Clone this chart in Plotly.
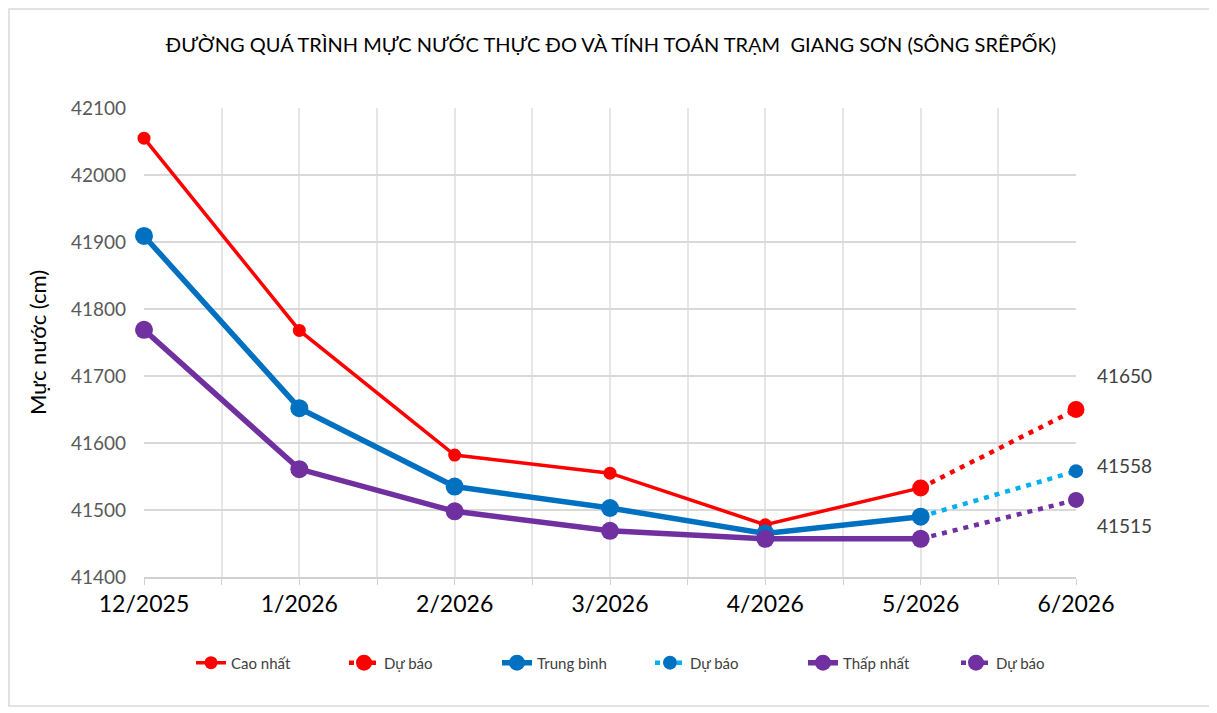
import plotly.graph_objects as go

months = ["12/2025", "1/2026", "2/2026", "3/2026", "4/2026", "5/2026", "6/2026"]
cao_nhat = [42055, 41768, 41582, 41555, 41478, 41533]
trung_binh = [41909, 41652, 41535, 41503, 41465, 41490]
thap_nhat = [41769, 41561, 41498, 41469, 41457, 41457]
du_bao_cao = [41533, 41650]
du_bao_tb = [41490, 41558]
du_bao_thap = [41457, 41515]

xi = list(range(len(months)))
x_obs = xi[:6]
x_fc = xi[5:7]

FONT = "Lato, 'Open Sans', sans-serif"
DOT = "5px,6px"
fig = go.Figure()

fig.add_trace(go.Scatter(x=x_obs, y=cao_nhat, name="Cao nhất", mode="lines+markers", cliponaxis=False,
                         line=dict(color="#FF0000", width=3.5), marker=dict(color="#FF0000", size=13)))
fig.add_trace(go.Scatter(x=x_fc, y=du_bao_cao, name="Dự báo", mode="lines+markers", cliponaxis=False,
                         line=dict(color="#FF0000", width=4.5, dash=DOT),
                         marker=dict(color="#FF0000", size=17)))
fig.add_trace(go.Scatter(x=x_obs, y=trung_binh, name="Trung bình", mode="lines+markers", cliponaxis=False,
                         line=dict(color="#0070C0", width=5.5), marker=dict(color="#0070C0", size=18)))
fig.add_trace(go.Scatter(x=x_fc, y=du_bao_tb, name="Dự báo", mode="lines+markers", cliponaxis=False,
                         line=dict(color="#00B0F0", width=4.5, dash=DOT),
                         marker=dict(color="#0070C0", size=14)))
fig.add_trace(go.Scatter(x=x_obs, y=thap_nhat, name="Thấp nhất", mode="lines+markers", cliponaxis=False,
                         line=dict(color="#7030A0", width=5.5), marker=dict(color="#7030A0", size=18)))
fig.add_trace(go.Scatter(x=x_fc, y=du_bao_thap, name="Dự báo", mode="lines+markers", cliponaxis=False,
                         line=dict(color="#7030A0", width=4.5, dash=DOT),
                         marker=dict(color="#7030A0", size=16)))

label_shifts = [(48, 34), (48, 6), (48, -26)]
for (xs, ys), series in zip(label_shifts, [du_bao_cao, du_bao_tb, du_bao_thap]):
    fig.add_annotation(x=x_fc[-1], y=series[-1], text=str(series[-1]), showarrow=False,
                       xshift=xs, yshift=ys, font=dict(family=FONT, size=19, color="#404040"))

fig.update_layout(
    width=1209, height=705,
    paper_bgcolor="white", plot_bgcolor="white",
    margin=dict(l=136, r=141, t=100, b=136),
    title=dict(text="ĐƯỜNG QUÁ TRÌNH MỰC NƯỚC THỰC ĐO VÀ TÍNH TOÁN TRẠM  GIANG SƠN (SÔNG SRÊPỐK)",
               x=(611 - 8) / 1209, xanchor="center", y=1 - (45 - 8) / 705, yanchor="middle",
               font=dict(family=FONT, size=20, color="#000000")),
    showlegend=True,
    legend=dict(orientation="h", x=(650 - 144) / 932, xanchor="center", y=-0.148, yanchor="top",
                font=dict(family=FONT, size=15, color="#404040"),
                entrywidth=108, entrywidthmode="pixels", traceorder="normal"),
    shapes=[dict(type="rect", xref="paper", yref="paper", x0=-0.1449, x1=1.1459, y0=-0.275, y1=1.211,
                 line=dict(color="#D9D9D9", width=1.5), layer="below")],
)
fig.update_xaxes(range=[0, 6], tickvals=xi, ticktext=months, showgrid=True, gridcolor="#E6E6E6",
                 gridwidth=1.5, zeroline=False, showline=True, linecolor="#D0D0D0", linewidth=1.5,
                 ticks="outside", ticklen=6, tickcolor="#D0D0D0",
                 minor=dict(dtick=0.5, showgrid=True, gridcolor="#E6E6E6", gridwidth=1.5,
                            ticks="outside", ticklen=6, tickcolor="#D0D0D0"),
                 tickfont=dict(family=FONT, size=23, color="#000000"))
fig.update_yaxes(range=[41400, 42100], dtick=100, showgrid=True, gridcolor="#D9D9D9", gridwidth=1.5,
                 zeroline=False, showline=False, tickformat="d", ticklabelstandoff=17,
                 tickfont=dict(family=FONT, size=19, color="#595959"),
                 title=dict(text="Mực nước (cm)", font=dict(family=FONT, size=22, color="#000000"), standoff=18))

fig.write_html("out.html")
